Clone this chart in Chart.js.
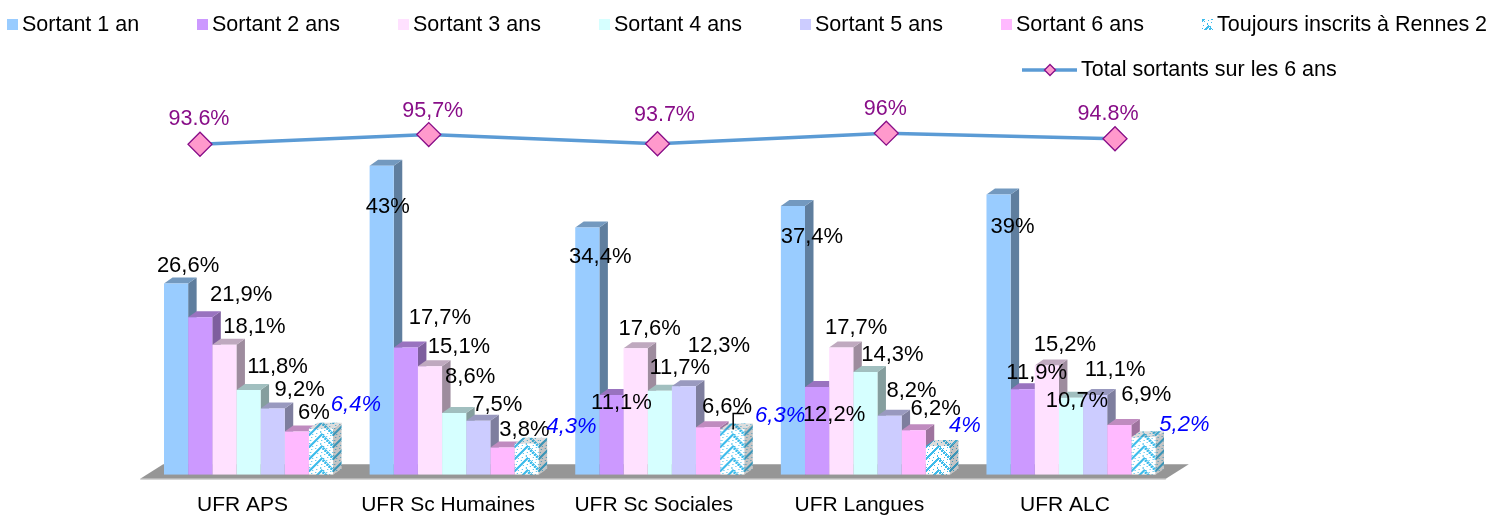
<!DOCTYPE html>
<html>
<head>
<meta charset="utf-8">
<style>
  html, body { margin: 0; padding: 0; background: #fff; }
  #wrap { width: 1491px; height: 516px; position: relative; }
</style>
<script src="https://cdn.jsdelivr.net/npm/chart.js@4"></script>
</head>
<body>
<div id="wrap"><canvas id="graph"></canvas></div>
<script>
const categories = ['UFR APS', 'UFR Sc Humaines', 'UFR Sc Sociales', 'UFR Langues', 'UFR ALC'];
const seriesNames = ['Sortant 1 an', 'Sortant 2 ans', 'Sortant 3 ans', 'Sortant 4 ans', 'Sortant 5 ans', 'Sortant 6 ans', 'Toujours inscrits à Rennes 2'];
const sortant1 = [26.6, 43, 34.4, 37.4, 39];
const sortant2 = [21.9, 17.7, 11.1, 12.2, 11.9];
const sortant3 = [18.1, 15.1, 17.6, 17.7, 15.2];
const sortant4 = [11.8, 8.6, 11.7, 14.3, 10.7];
const sortant5 = [9.2, 7.5, 12.3, 8.2, 11.1];
const sortant6 = [6, 3.8, 6.6, 6.2, 6.9];
const inscrits = [6.4, 4.3, 6.3, 4, 5.2];
const totalName = 'Total sortants sur les 6 ans';
const total = [93.6, 95.7, 93.7, 96, 94.8];
const totalTexts = ['93.6%', '95,7%', '93.7%', '96%', '94.8%'];

const couleurs = ['#99ccff', '#cc99ff', '#ffe1ff', '#d6ffff', '#ccccff', '#ffb9ff'];
const legendeX = [7, 197, 398, 599, 800, 1001, 1202];

// decalage des etiquettes par rapport au haut de chaque barre, [dx, dy] par serie puis par UFR
const decalages = [
  [[12, -18], [6, 41], [13, 29], [19, 31], [14, 32]],
  [[41, -22], [34, -30], [10, 8], [17, 28], [14, -16]],
  [[30, -18], [29, -19], [14, -19], [15, -20], [18, -21]],
  [[29, -23], [16, -36], [20, -23], [27, -17], [6, 3]],
  [[27, -19], [19, -16], [35, -40], [22, -25], [20, -25]],
  [[17, -19], [22, -17], [19, -20], [22, -21], [27, -30]],
  [[35, -24], [45, -17], [48, -14], [27, -20], [41, -12]]
];
const decalagesTotal = [[-1, -25], [4, -23], [7, -29], [-1, -24], [-7, -25]];

// chevrons pixelises de la serie "toujours inscrits", recales sur chaque barre
function motifInscrits(origine) {
  const c = document.createElement('canvas');
  c.width = 24; c.height = 12;
  const g = c.getContext('2d');
  g.fillStyle = '#fff';
  g.fillRect(0, 0, 24, 12);
  g.fillStyle = '#3dbcec';
  for (let x = 0; x < 24; x++) {
    for (let y = 0; y < 12; y++) {
      const v = (y - Math.abs(x - 11.5) + 48) % 12;
      if (v < 4 && (x + y) % 4 !== 0) g.fillRect(x, y, 1, 1);
      else if (v > 5 && (x * 3 + y) % 11 === 0) g.fillRect(x, y, 1, 1);
    }
  }
  const m = g.createPattern(c, 'repeat');
  m.setTransform(new DOMMatrix().translate(origine, 0));
  return m;
}
const motifs = categories.map((c, j) => motifInscrits(309.2 + 205.6 * j));
const motifLegende = motifInscrits(1196);

function virgule(v) {
  return String(v).replace('.', ',') + '%';
}

function ombre(couleur, k) {
  const n = parseInt(couleur.slice(1), 16);
  const r = Math.round((n >> 16) * k), g = Math.round(((n >> 8) & 255) * k), b = Math.round((n & 255) * k);
  return 'rgb(' + r + ',' + g + ',' + b + ')';
}

// faces 3D des barres et sol
const relief = {
  id: 'relief',
  beforeDatasetsDraw(chart) {
    const ctx = chart.ctx;
    const profX = 8.5, profY = 6;
    const xs = chart.scales.x;
    const bas = chart.scales.y.getPixelForValue(0);

    ctx.save();
    ctx.fillStyle = '#969696';
    ctx.beginPath();
    ctx.moveTo(xs.left - 5.5, bas + 4);
    ctx.lineTo(xs.left + 17.5, bas - 10.5);
    ctx.lineTo(xs.right + 15, bas - 10.5);
    ctx.lineTo(xs.right - 8, bas + 4);
    ctx.closePath();
    ctx.fill();
    ctx.fillStyle = '#c4c4c4';
    ctx.fillRect(xs.left - 5.5, bas + 4, xs.right - xs.left - 2.5, 1);

    chart.data.datasets.forEach((ds, i) => {
      if (ds.type === 'line') return;
      chart.getDatasetMeta(i).data.forEach((bar, j) => {
        const p = bar.getProps(['x', 'y', 'base', 'width'], true);
        const g = p.x - p.width / 2, d = p.x + p.width / 2;
        const faces = [
          [[d, p.y], [d + profX, p.y - profY], [d + profX, p.base - profY], [d, p.base]],
          [[g, p.y], [g + profX, p.y - profY], [d + profX, p.y - profY], [d, p.y]]
        ];
        faces.forEach((pts, f) => {
          ctx.beginPath();
          pts.forEach((q, n) => n ? ctx.lineTo(q[0], q[1]) : ctx.moveTo(q[0], q[1]));
          ctx.closePath();
          if (i === 6) {
            ctx.fillStyle = motifs[j];
            ctx.fill();
            ctx.fillStyle = f ? 'rgba(60,60,60,0.18)' : 'rgba(60,60,60,0.3)';
          } else {
            ctx.fillStyle = ombre(ds.backgroundColor, f ? 0.75 : 0.62);
          }
          ctx.fill();
        });
      });
    });
    ctx.restore();
  }
};

// etiquettes de valeurs et legende
const etiquettes = {
  id: 'etiquettes',
  afterDatasetsDraw(chart) {
    const ctx = chart.ctx;
    ctx.save();
    ctx.textAlign = 'center';
    ctx.textBaseline = 'middle';

    chart.data.datasets.forEach((ds, i) => {
      if (ds.type === 'line') return;
      ctx.font = (i === 6 ? 'italic ' : '') + '22px "Liberation Sans"';
      ctx.fillStyle = i === 6 ? '#0000ff' : '#000';
      chart.getDatasetMeta(i).data.forEach((bar, j) => {
        const off = decalages[i][j];
        ctx.fillText(virgule(ds.data[j]), bar.x + off[0], bar.y + off[1]);
      });
    });

    // trait de rappel du 6,3%
    const rappel = chart.getDatasetMeta(6).data[2];
    ctx.strokeStyle = '#000';
    ctx.lineWidth = 1.5;
    ctx.beginPath();
    ctx.moveTo(rappel.x + 1, rappel.y);
    ctx.lineTo(rappel.x + 1, rappel.y - 16);
    ctx.lineTo(rappel.x + 12, rappel.y - 16);
    ctx.stroke();

    const iTotal = chart.data.datasets.length - 1;
    ctx.font = '21.5px "Liberation Sans"';
    ctx.fillStyle = '#880e88';
    chart.getDatasetMeta(iTotal).data.forEach((pt, j) => {
      const off = decalagesTotal[j];
      ctx.fillText(totalTexts[j], pt.x + off[0], pt.y + off[1]);
    });

    // legende
    ctx.textAlign = 'left';
    ctx.font = '21.5px "Liberation Sans"';
    seriesNames.forEach((nom, i) => {
      const x = legendeX[i];
      ctx.fillStyle = i < 6 ? couleurs[i] : motifLegende;
      ctx.fillRect(x, 19, 11, 11);
      ctx.fillStyle = '#000';
      ctx.fillText(nom, x + 15, 25);
    });
    ctx.strokeStyle = '#5b9bd5';
    ctx.lineWidth = 3.5;
    ctx.beginPath();
    ctx.moveTo(1022, 70);
    ctx.lineTo(1077, 70);
    ctx.stroke();
    ctx.fillStyle = '#ff99cc';
    ctx.strokeStyle = '#880e88';
    ctx.lineWidth = 1.3;
    ctx.beginPath();
    ctx.moveTo(1050, 64.5);
    ctx.lineTo(1055.5, 70);
    ctx.lineTo(1050, 75.5);
    ctx.lineTo(1044.5, 70);
    ctx.closePath();
    ctx.fill();
    ctx.stroke();
    ctx.fillStyle = '#000';
    ctx.fillText(totalName, 1081, 70);
    ctx.restore();
  }
};

// la courbe a son propre axe x : les barres ne doivent pas lui reserver de place
Chart.BarController.prototype._getAxis = () => ['x'];

const barres = [sortant1, sortant2, sortant3, sortant4, sortant5, sortant6, inscrits].map((vals, i) => ({
  label: seriesNames[i],
  data: vals,
  backgroundColor: i < 6 ? couleurs[i] : (c => motifs[c.dataIndex]),
  borderWidth: 0,
  categoryPercentage: 0.822,
  barPercentage: 1,
  order: 1,
  yAxisID: 'y'
}));

new Chart(document.getElementById('graph'), {
  type: 'bar',
  data: {
    labels: categories,
    datasets: barres.concat([{
      type: 'line',
      label: totalName,
      data: total.map((v, i) => ({ x: i, y: v })),
      borderColor: '#5b9bd5',
      borderWidth: 3.5,
      pointStyle: 'rectRot',
      pointRadius: 12,
      pointHoverRadius: 12,
      pointBackgroundColor: '#ff99cc',
      pointBorderColor: '#880e88',
      pointBorderWidth: 1.3,
      tension: 0,
      order: 0,
      xAxisID: 'xTotal',
      yAxisID: 'yTotal'
    }])
  },
  plugins: [relief, etiquettes],
  options: {
    responsive: true,
    maintainAspectRatio: false,
    animation: false,
    layout: { padding: { left: 145.7, right: 317.2, top: 100, bottom: 0 } },
    plugins: { legend: { display: false }, tooltip: { enabled: false } },
    scales: {
      x: {
        grid: { display: false },
        border: { display: false },
        ticks: { color: '#000', font: { family: 'Liberation Sans', size: 21 }, padding: 10, labelOffset: -6, maxRotation: 0, autoSkip: false },
        afterFit(scale) { scale.height = 41.3; }
      },
      xTotal: { type: 'linear', display: false, offset: false, min: -0.2374, max: 4.257 },
      y: { display: false, min: 0, max: 52.15 },
      yTotal: { display: false, min: 21.9, max: 103.2 }
    }
  }
});
</script>
</body>
</html>
